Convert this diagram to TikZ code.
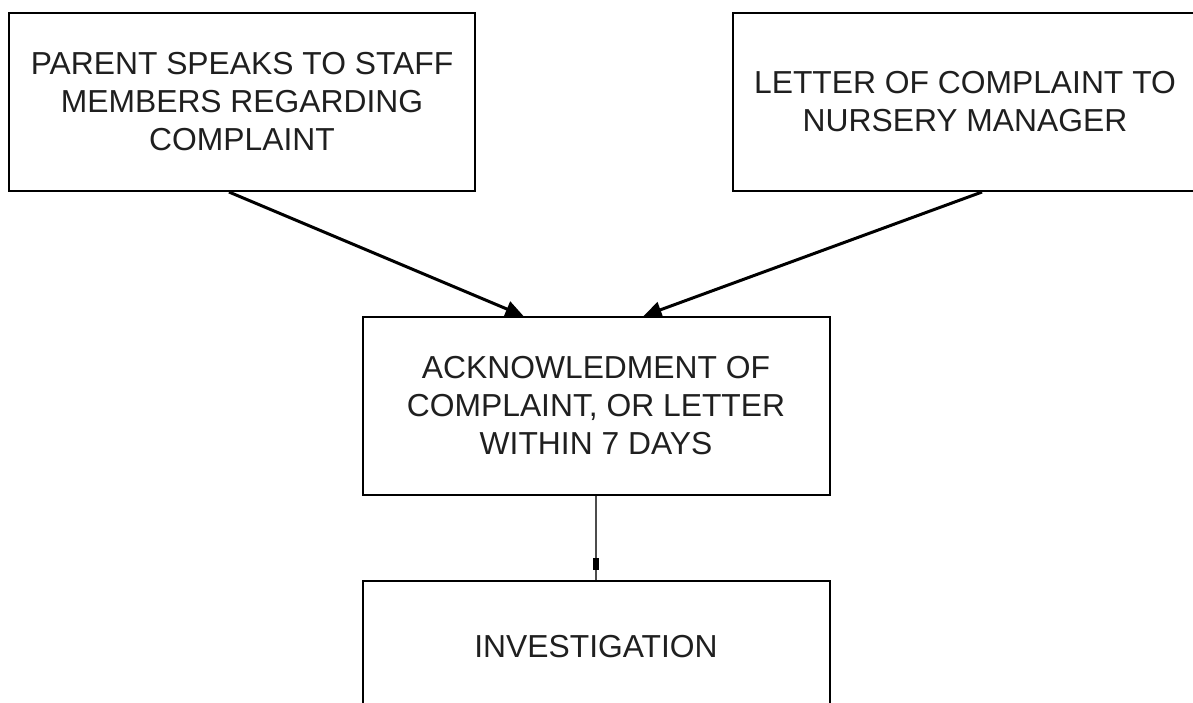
\documentclass[tikz,border=0pt]{standalone}
\usepackage{fontspec}
\setmainfont{Liberation Sans}
\usetikzlibrary{arrows.meta,calc,decorations.markings}
\begin{document}
\begin{tikzpicture}[x=1pt,y=-1pt,
  box/.style={draw=black,line width=2pt,rectangle,align=center,inner sep=0pt,
    font=\fontsize{31.8}{38}\selectfont,text=black!88},
  bigarrow/.style={draw=black,line width=3pt,-{Triangle[length=18pt,width=16pt]}},
  smallconn/.style={draw=black!70,line width=2pt,
    postaction={decorate},
    decoration={markings,mark=at position 74pt with {\arrow[black]{Rectangle[length=12pt,width=6pt]}}}}
  ]
\useasboundingbox (0,0) rectangle (1193,702);
\clip (0,0) rectangle (1193,702);
\fill[white] (0,0) rectangle (1193,702);
\node[box,minimum width=466pt,minimum height=178pt] (b1) at (242,102)
  {PARENT SPEAKS TO STAFF\\MEMBERS REGARDING\\COMPLAINT};
\node[box,minimum width=464pt,minimum height=178pt] (b2) at (965,102)
  {LETTER OF COMPLAINT TO\\NURSERY MANAGER};
\node[box,minimum width=467pt,minimum height=178pt] (b3) at (596,406)
  {ACKNOWLEDMENT OF\\COMPLAINT, OR LETTER\\WITHIN 7 DAYS};
\node[box,minimum width=467pt,minimum height=132pt] (b4) at (596,647)
  {INVESTIGATION};
\coordinate (s1) at ($(b1.south west)+(221,0)$);
\coordinate (t1) at ($(b3.north west)+(162,0)$);
\coordinate (s2) at ($(b2.south west)+(250,0)$);
\coordinate (t2) at ($(b3.north west)+(282,0)$);
\draw[bigarrow] (s1) -- (t1);
\draw[bigarrow] (s2) -- (t2);
\draw[smallconn] (b3.south) -- (b4.north);
\end{tikzpicture}
\end{document}
